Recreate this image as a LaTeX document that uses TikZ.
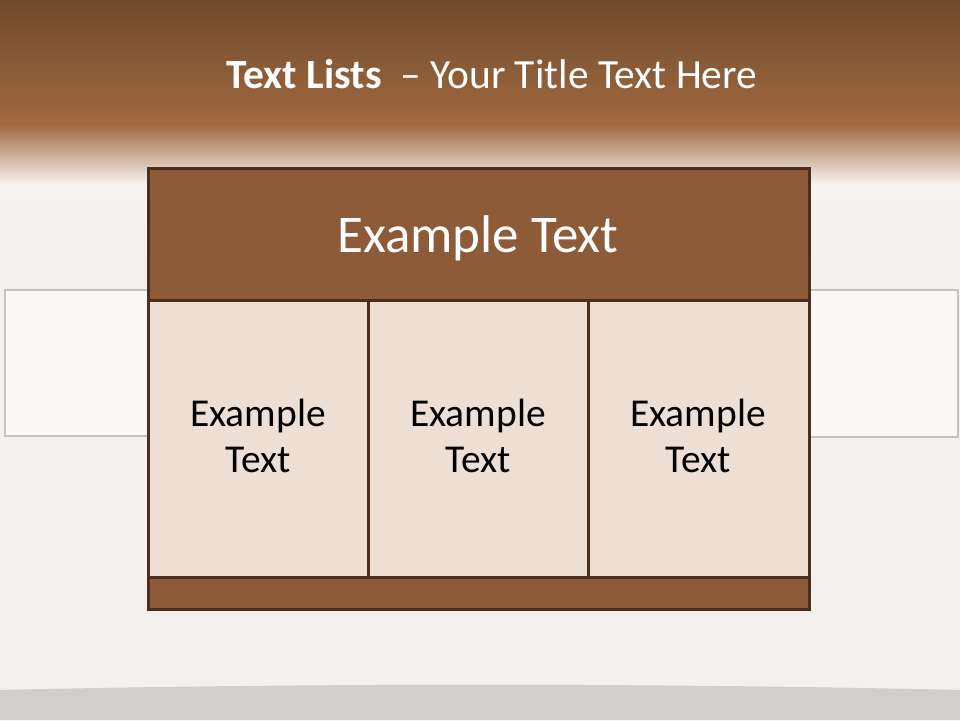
\documentclass[tikz,border=0pt]{standalone}
\usepackage{fontspec}
\setmainfont{Carlito}
\definecolor{bgc}{HTML}{F3F0EE}
\definecolor{bgw}{HTML}{F7F4F2}
\definecolor{topd}{HTML}{6E4A2E}
\definecolor{topl}{HTML}{A26A40}
\definecolor{hdr}{HTML}{8E5B38}
\definecolor{edge}{HTML}{4B2E1E}
\definecolor{cell}{HTML}{EEDFD4}
\definecolor{side}{HTML}{FCF8F5}
\definecolor{sideedge}{HTML}{C4C2C0}
\definecolor{floor}{HTML}{D2CECB}
\tikzset{
  panel/.style={draw=edge, line width=3pt},
  sidebox/.style={draw=sideedge, line width=2.5pt, fill=side},
  celltext/.style={font=\fontsize{39.5}{46}\selectfont, text=black, align=center, anchor=base},
}
\begin{document}
\begin{tikzpicture}[x=1pt,y=-1pt]
\useasboundingbox (0,0) rectangle (960,720);
% background
\fill[bgc] (0,0) rectangle (960,720);
\shade[top color=topd, bottom color=topl] (0,0) rectangle (960,126);
\shade[top color=topl, bottom color=bgw] (0,125) rectangle (960,185);
\shade[top color=bgw, bottom color=bgc] (0,184) rectangle (960,300);
% floor
\fill[floor] (0,720) -- (0,690) .. controls (300,683) and (660,683) .. (960,690) -- (960,720) -- cycle;
% side boxes
\draw[sidebox] (5,290) rectangle (160,436);
\draw[sidebox] (800,290) rectangle (958,437);
% title
\node[anchor=base, text=white, font=\fontsize{41.5}{48}\selectfont] (title) at (492,88) {\textbf{Text Lists}\ \ – Your Title Text Here};
% main panel
\fill[hdr] (148,168) rectangle (809,300);
\fill[cell] (148,300) rectangle (809,577);
\fill[hdr] (148,577) rectangle (809,609);
\draw[panel] (148,168) rectangle (809,609);
\draw[panel] (148,300) -- (809,300);
\draw[panel] (148,577) -- (809,577);
\draw[panel] (368,300) -- (368,577);
\draw[panel] (588,300) -- (588,577);
% header text
\node[anchor=base, text=white, font=\fontsize{53}{60}\selectfont] (head) at (478,252.5) {Example Text};
% cells
\node[celltext] (c1a) at (258,426) {Example};
\node[celltext] (c1b) at (258,472) {Text};
\node[celltext] (c2a) at (478,426) {Example};
\node[celltext] (c2b) at (478,472) {Text};
\node[celltext] (c3a) at (698,426) {Example};
\node[celltext] (c3b) at (698,472) {Text};
\end{tikzpicture}
\end{document}
